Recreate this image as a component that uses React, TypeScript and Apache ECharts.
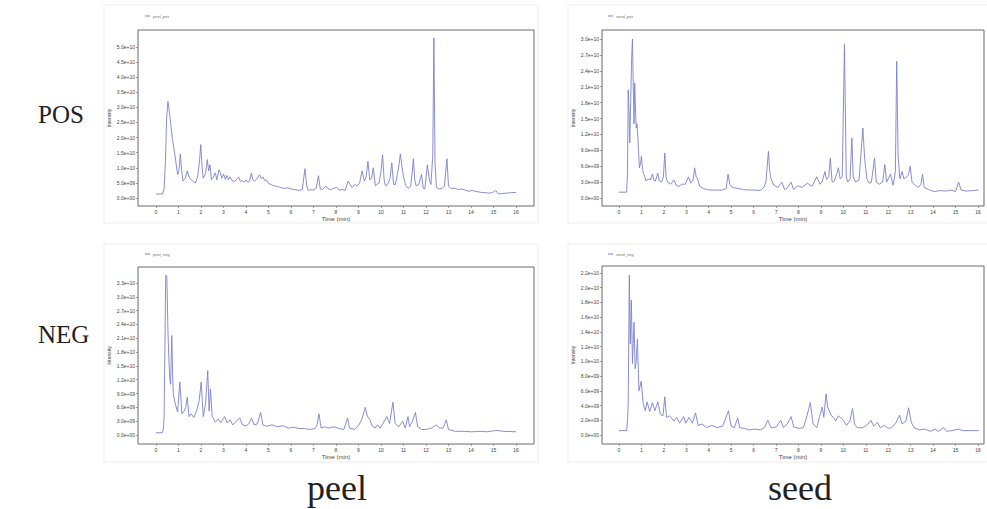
import React, { useEffect, useRef } from "react";
import * as echarts from "echarts";

// Chromatogram traces: [time (min), intensity in units of 1e9]
const peelPos: [number, number][] = [[0,1.3],[0.29,1.3],[0.36,3],[0.42,12],[0.47,26],[0.53,32],[0.57,30],[0.65,24.8],[0.74,19],[0.84,14.3],[0.96,7.7],[1.02,9],[1.08,14.6],[1.14,9],[1.2,5.6],[1.3,6.5],[1.39,9],[1.47,7],[1.56,6],[1.65,5.5],[1.75,5],[1.85,7],[1.93,12],[1.99,17.7],[2.05,10],[2.1,6.5],[2.2,8],[2.28,12.7],[2.34,9],[2.4,11],[2.46,6],[2.55,7],[2.64,8.3],[2.7,6],[2.8,9.3],[2.86,8.5],[2.92,6.5],[3.0,8],[3.08,6.2],[3.15,7.5],[3.22,6],[3.29,7],[3.37,5.8],[3.47,5.5],[3.57,6],[3.67,7],[3.75,5.5],[3.84,5.7],[3.92,5.2],[4.0,6],[4.08,5.2],[4.16,5.6],[4.24,8.3],[4.3,6],[4.38,5.6],[4.47,6.2],[4.6,7.7],[4.68,6.4],[4.75,7],[4.83,5.8],[4.9,6],[5.0,4.8],[5.1,4.5],[5.25,4],[5.4,3.8],[5.5,3.6],[5.6,3.3],[5.75,3.2],[5.85,3.4],[6.0,3.0],[6.15,2.8],[6.35,2.5],[6.5,2.8],[6.62,9.7],[6.7,4],[6.76,2.5],[6.9,2.8],[7.0,2.6],[7.12,3.2],[7.22,7.4],[7.3,3],[7.4,2.8],[7.55,4],[7.65,3],[7.75,2.8],[7.9,3.2],[8.03,3.5],[8.15,2.6],[8.28,2.8],[8.4,2.5],[8.54,5.6],[8.62,4.5],[8.72,3.5],[8.84,4.5],[8.95,4],[9.05,5],[9.16,9],[9.26,5.6],[9.34,7],[9.42,12.1],[9.5,6],[9.58,6.5],[9.66,10],[9.75,4],[9.82,4.5],[9.92,5],[10.0,9],[10.07,14.3],[10.14,6],[10.2,4],[10.3,4.5],[10.4,6.5],[10.48,11.6],[10.56,4.5],[10.64,4.5],[10.72,7.5],[10.8,11],[10.86,14.6],[10.93,10.5],[11.0,7],[11.1,4],[11.22,3.2],[11.32,4],[11.38,8],[11.44,13],[11.5,6],[11.56,4],[11.68,4.5],[11.8,7.8],[11.88,3.2],[11.95,3],[12.06,11],[12.15,6],[12.22,4.5],[12.3,14],[12.35,53],[12.4,12],[12.46,3.5],[12.6,3],[12.72,3.2],[12.82,4],[12.93,13],[13.0,4],[13.1,3.2],[13.3,3.2],[13.45,2.8],[13.6,3],[13.75,2.6],[13.9,2.2],[14.05,2.5],[14.2,2.2],[14.35,2],[14.5,1.8],[14.65,1.8],[14.8,1.6],[14.95,1.8],[15.1,2.5],[15.2,1.4],[15.35,1.4],[15.55,1.6],[15.8,1.8],[16.0,1.8]];

const seedPos: [number, number][] = [[0,1.1],[0.34,1.1],[0.38,5],[0.41,20.4],[0.45,16],[0.48,10.4],[0.52,18],[0.56,26],[0.6,30],[0.64,20],[0.67,14],[0.7,21.7],[0.74,16],[0.77,13.2],[0.8,14],[0.84,11.6],[0.88,8],[0.91,5.7],[0.96,6.5],[1.0,7.9],[1.04,6],[1.08,4.7],[1.14,4.2],[1.2,3.2],[1.3,3.6],[1.4,3.4],[1.49,4.5],[1.55,3.4],[1.62,3.2],[1.73,4.7],[1.8,3.2],[1.9,3.0],[1.98,4],[2.04,8.5],[2.1,4],[2.16,3],[2.3,2.6],[2.45,3.4],[2.55,2.4],[2.68,2.2],[2.8,2.6],[2.95,2.6],[3.1,4],[3.2,2.8],[3.3,3.4],[3.37,5.7],[3.44,4],[3.5,3.6],[3.6,2.2],[3.75,1.8],[3.9,1.6],[4.1,1.5],[4.35,1.5],[4.6,1.5],[4.78,1.8],[4.86,4.5],[4.94,2.6],[5.05,2.0],[5.3,1.8],[5.55,1.6],[5.8,1.5],[6.05,1.5],[6.3,1.4],[6.45,2],[6.55,3],[6.66,8.8],[6.72,5],[6.78,3.6],[6.9,2.4],[7.08,2],[7.26,3],[7.38,1.6],[7.5,1.9],[7.67,3.0],[7.78,1.6],[7.98,2.3],[8.15,2],[8.4,2.8],[8.6,2.2],[8.82,4],[8.95,2.6],[9.05,3],[9.18,5],[9.25,3.5],[9.35,4],[9.42,7.5],[9.5,3],[9.6,3.2],[9.7,4.5],[9.78,5.7],[9.86,3.6],[9.95,4],[10.05,29],[10.13,4],[10.2,3],[10.3,3.6],[10.38,11.3],[10.44,4],[10.55,3],[10.7,3.4],[10.87,13.2],[10.95,7.5],[11.05,3.6],[11.15,2.8],[11.25,3],[11.39,7.5],[11.47,3],[11.6,2.6],[11.75,3],[11.85,6.3],[11.93,3],[12.1,4.5],[12.22,2.4],[12.32,5],[12.38,25.8],[12.44,8],[12.52,3.6],[12.62,5],[12.7,3.6],[12.82,4],[12.9,4.3],[12.98,6],[13.06,3],[13.2,2.4],[13.35,2],[13.46,2.6],[13.53,4.5],[13.6,2],[13.8,1.6],[14.05,1.2],[14.3,1.4],[14.55,1.3],[14.8,1.5],[15.0,1.2],[15.14,3],[15.25,1.5],[15.5,1.3],[15.75,1.4],[16.03,1.5]];

const peelNeg: [number, number][] = [[0,0.5],[0.29,0.5],[0.33,1.5],[0.36,3.9],[0.4,20],[0.43,34.6],[0.48,34.5],[0.5,30],[0.53,22.7],[0.58,15.4],[0.62,12],[0.65,11],[0.7,21.6],[0.74,13],[0.77,8.9],[0.86,6.7],[0.96,5],[1.06,11.5],[1.15,4.6],[1.25,5.2],[1.32,6],[1.39,8.2],[1.47,4],[1.56,4.6],[1.68,3.8],[1.8,5.2],[1.92,7.5],[2.01,11.5],[2.1,4],[2.2,6.7],[2.3,14],[2.36,5.2],[2.42,10],[2.5,4],[2.64,2.8],[2.76,3.5],[2.88,2.7],[3.05,4],[3.17,2.6],[3.29,3.3],[3.41,2.2],[3.55,2.9],[3.72,3.7],[3.84,2.2],[4.0,2],[4.12,2.4],[4.24,3.7],[4.36,2.2],[4.5,2.4],[4.65,4.9],[4.75,2.2],[4.92,1.9],[5.15,2.2],[5.4,1.8],[5.65,2],[5.88,1.5],[6.12,1.7],[6.35,1.4],[6.6,1.4],[6.83,1.2],[7.07,1.4],[7.16,2.2],[7.24,4.6],[7.34,1.5],[7.48,1.8],[7.68,1.5],[7.92,1.8],[8.15,1.4],[8.35,1.2],[8.51,3.7],[8.6,1.5],[8.83,1.2],[9.0,2],[9.16,3.6],[9.3,6],[9.4,4],[9.5,3.4],[9.6,2],[9.74,1.5],[9.84,2.2],[9.96,1.5],[10.1,2.6],[10.26,4],[10.38,2.5],[10.53,7.1],[10.63,2.5],[10.79,1.8],[10.96,3],[11.08,1.5],[11.2,4],[11.27,1.8],[11.39,2.9],[11.53,4.9],[11.63,1.8],[11.8,1.2],[12.0,1.2],[12.24,1.5],[12.47,2.2],[12.6,1.5],[12.76,1.5],[12.9,3.3],[13.0,1.2],[13.3,0.8],[13.67,0.8],[14.03,0.7],[14.4,0.8],[14.75,0.7],[15.1,1.0],[15.47,0.8],[16.0,0.7]];

const seedNeg: [number, number][] = [[0,0.6],[0.34,0.6],[0.38,2],[0.41,4.2],[0.46,21.7],[0.5,12.4],[0.55,18.3],[0.6,9.7],[0.67,15.3],[0.72,9],[0.77,10],[0.82,13],[0.89,6],[0.99,7.3],[1.08,4.2],[1.17,3.3],[1.25,4.5],[1.37,3.2],[1.49,4.4],[1.6,3.3],[1.73,4.5],[1.85,2.8],[1.96,2.6],[2.04,5.2],[2.12,2.4],[2.26,2.6],[2.45,1.9],[2.57,2.4],[2.7,1.6],[2.88,2.5],[2.98,1.6],[3.12,2.4],[3.27,1.6],[3.41,3.0],[3.53,1.3],[3.7,1.5],[3.9,1.0],[4.14,1.3],[4.38,1.0],[4.62,1.2],[4.88,3.3],[5.0,1.2],[5.14,1.0],[5.29,2.3],[5.38,1.0],[5.58,0.9],[5.82,0.7],[6.06,0.8],[6.3,0.7],[6.49,1.0],[6.63,2.0],[6.78,1.0],[7.02,1.1],[7.21,2.0],[7.33,1.0],[7.5,1.5],[7.67,2.5],[7.79,1.1],[8.03,0.9],[8.22,1.0],[8.36,2.4],[8.53,4.4],[8.65,1.5],[8.82,1.0],[8.94,2.5],[9.06,3.8],[9.13,2.4],[9.23,5.6],[9.3,3.8],[9.37,3.3],[9.47,2.6],[9.57,2.4],[9.66,1.9],[9.78,2.6],[9.9,2.3],[10.02,1.9],[10.14,1.3],[10.29,1.9],[10.41,3.6],[10.5,1.5],[10.62,1.0],[10.87,1.0],[11.1,1.5],[11.23,2.0],[11.35,1.2],[11.52,1.7],[11.64,1.0],[11.83,1.3],[12.0,0.9],[12.16,1.0],[12.35,1.7],[12.5,2.7],[12.62,1.5],[12.79,1.9],[12.91,3.7],[13.03,1.7],[13.15,1.0],[13.39,0.7],[13.63,0.8],[13.87,0.5],[14.1,0.8],[14.23,0.5],[14.47,1.0],[14.6,0.5],[14.84,0.6],[15.14,0.8],[15.3,0.6],[15.66,0.6],[16.03,0.6]];

// Tick labels
const timeTicks = [0, 1, 2, 3, 4, 5, 6, 7, 8, 9, 10, 11, 12, 13, 14, 15, 16];
const peelPosTicks = [0, 5e9, 10e9, 15e9, 20e9, 25e9, 30e9, 35e9, 40e9, 45e9, 50e9];
const seedPosTicks = [0, 3e9, 6e9, 9e9, 12e9, 15e9, 18e9, 21e9, 24e9, 27e9, 30e9];
const peelNegTicks = [0, 3e9, 6e9, 9e9, 12e9, 15e9, 18e9, 21e9, 24e9, 27e9, 30e9, 33e9];
const seedNegTicks = [0, 2e9, 4e9, 6e9, 8e9, 10e9, 12e9, 14e9, 16e9, 18e9, 20e9, 22e9];

const seriesNames = ["peel_pos", "seed_pos", "peel_neg", "seed_neg"];
const rowLabels = ["POS", "NEG"];
const colLabels = ["peel", "seed"];

function sci(v: number): string {
  if (Math.abs(v) < 1e-6) return "0.0e+00";
  let e = Math.floor(Math.log10(Math.abs(v)) + 1e-9);
  let m = v / Math.pow(10, e);
  let ms = m.toFixed(1);
  if (ms === "10.0") { e += 1; ms = "1.0"; }
  return ms + "e" + (e < 0 ? "-" : "+") + String(Math.abs(e)).padStart(2, "0");
}

export default function App() {
  const ref = useRef<HTMLDivElement>(null);
  useEffect(() => {
    if (!ref.current) return;
    const chart = echarts.init(ref.current, undefined, { renderer: "svg" });
    const font = "Liberation Sans";
    const lineColor = "#7c81cc";

    const panels = [
      { data: peelPos, ticks: peelPosTicks, grid: { left: 138, top: 30, width: 396, height: 176 }, x: [-0.8, 16.8], y: [-2.65e9, 55.63e9], legend: [145, 14] },
      { data: seedPos, ticks: seedPosTicks, grid: { left: 602, top: 30, width: 382, height: 176 }, x: [-0.758, 16.27], y: [-1.51e9, 31.7e9], legend: [608, 14] },
      { data: peelNeg, ticks: peelNegTicks, grid: { left: 138, top: 267, width: 396, height: 177 }, x: [-0.8, 16.8], y: [-1.95e9, 36.47e9], legend: [145, 252] },
      { data: seedNeg, ticks: seedNegTicks, grid: { left: 602, top: 266, width: 382, height: 178 }, x: [-0.758, 16.27], y: [-1.22e9, 22.95e9], legend: [608, 252] },
    ];

    const labelStyle = { fontFamily: font, fontSize: 5, color: "#444" };

    const option: any = {
      animation: false,
      backgroundColor: "#ffffff",
      grid: panels.map((p) => ({ ...p.grid, show: true, borderColor: "#6a6a6a", borderWidth: 1, containLabel: false })),
      xAxis: panels.map((p, i) => ({
        type: "value",
        gridIndex: i,
        min: p.x[0],
        max: p.x[1],
        position: "bottom",
        name: "Time (min)",
        nameLocation: "middle",
        nameGap: 10,
        nameTextStyle: { fontFamily: font, fontSize: 6, color: "#444" },
        axisLine: { show: false, onZero: false },
        splitLine: { show: false },
        axisTick: { show: true, length: 2, lineStyle: { color: "#666", width: 0.6 }, customValues: timeTicks },
        axisLabel: { ...labelStyle, margin: 3, customValues: timeTicks, formatter: (v: number) => String(Math.round(v)) },
      })),
      yAxis: panels.map((p, i) => ({
        type: "value",
        gridIndex: i,
        min: p.y[0],
        max: p.y[1],
        position: "left",
        name: "Intensity",
        nameLocation: "middle",
        nameGap: 27,
        nameTextStyle: { fontFamily: font, fontSize: 5, color: "#444" },
        axisLine: { show: false, onZero: false },
        splitLine: { show: false },
        axisTick: { show: true, length: 2, lineStyle: { color: "#666", width: 0.6 }, customValues: p.ticks },
        axisLabel: { ...labelStyle, margin: 3, customValues: p.ticks, formatter: (v: number) => sci(v) },
      })),
      legend: panels.map((p, i) => ({
        data: [seriesNames[i]],
        left: p.legend[0],
        top: p.legend[1],
        icon: "rect",
        itemWidth: 5,
        itemHeight: 1,
        itemGap: 2,
        padding: 0,
        textStyle: { fontFamily: font, fontSize: 4, color: "#777", padding: [0, 0, 0, -2] },
      })),
      series: panels.map((p, i) => ({
        name: seriesNames[i],
        type: "line",
        xAxisIndex: i,
        yAxisIndex: i,
        data: p.data.map((d) => [d[0], d[1] * 1e9]),
        showSymbol: false,
        symbol: "none",
        lineStyle: { color: lineColor, width: 0.9 },
        itemStyle: { color: lineColor },
      })),
      graphic: [
        { type: "rect", shape: { x: 104, y: 5, width: 434, height: 218 }, style: { fill: "none", stroke: "#ededed", lineWidth: 1 }, silent: true },
        { type: "rect", shape: { x: 568, y: 5, width: 430, height: 218 }, style: { fill: "none", stroke: "#ededed", lineWidth: 1 }, silent: true },
        { type: "rect", shape: { x: 104, y: 244, width: 434, height: 218 }, style: { fill: "none", stroke: "#ededed", lineWidth: 1 }, silent: true },
        { type: "rect", shape: { x: 568, y: 244, width: 430, height: 218 }, style: { fill: "none", stroke: "#ededed", lineWidth: 1 }, silent: true },
        { type: "text", left: 38, top: 102, style: { text: rowLabels[0], fontFamily: "Liberation Serif", fontSize: 25, fill: "#222" } },
        { type: "text", left: 38, top: 322, style: { text: rowLabels[1], fontFamily: "Liberation Serif", fontSize: 25, fill: "#222" } },
        { type: "text", x: 337, y: 488, style: { text: colLabels[0], fontFamily: "Liberation Serif", fontSize: 36, fill: "#222", align: "center", verticalAlign: "middle" } },
        { type: "text", x: 800, y: 488, style: { text: colLabels[1], fontFamily: "Liberation Serif", fontSize: 36, fill: "#222", align: "center", verticalAlign: "middle" } },
      ],
    };
    chart.setOption(option);
    return () => chart.dispose();
  }, []);
  return <div ref={ref} style={{ position: "fixed", left: 0, top: 0, width: 987, height: 509 }} />;
}
